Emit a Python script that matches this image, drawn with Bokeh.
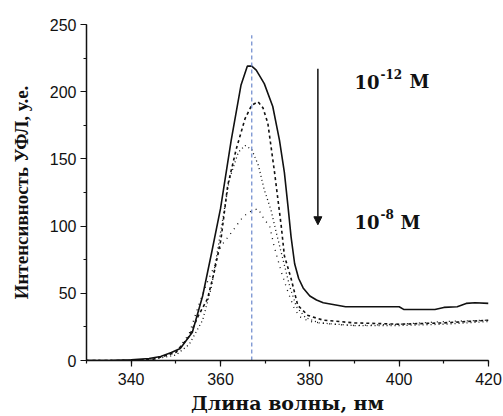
from bokeh.plotting import figure
from bokeh.models import Arrow, NormalHead, Label, SingleIntervalTicker, Range1d
from bokeh.embed import file_html
from bokeh.resources import INLINE

# --- data ---
x_c12 = [330, 335, 340, 344, 346.6, 349, 351, 353.7, 356, 358, 360, 362.4, 364.6, 366, 367,
         368, 369.8, 371.7, 373.2, 374.3, 375.1, 375.8, 376.6, 377.5, 378.5, 380, 381.5, 383, 388,
         390, 400, 401, 408, 410, 413, 415, 417, 420]
y_c12 = [0, 0, 0.5, 1.5, 3, 6, 9, 21, 48, 80, 113, 164, 205, 219, 219,
         216, 206, 189, 164, 140, 115, 92, 72, 61, 54, 48, 45, 43, 40,
         40, 40, 38, 38, 39.5, 40, 42.5, 43, 42.5]

x_c11 = [330, 340, 345, 350, 353, 355, 357.1, 358.6, 360.1, 361.6, 363.5, 365.5, 367, 368.4,
         369.5, 370.6, 372.1, 373.6, 374.3, 375.8, 377.3, 379.6, 383, 390, 400, 410, 415, 420]
y_c11 = [0, 0, 1, 6, 18, 33, 46, 66, 90, 130, 157, 180, 190, 192.5,
         188, 176.5, 140, 100, 78, 61, 41, 33.5, 30, 28, 27, 28, 29, 30]

x_c10 = [330, 340, 345, 350, 353, 356, 358, 360, 362, 364, 365.5, 367, 368.5, 369.8, 371.3,
         372.5, 374, 375.5, 377, 379, 382, 390, 400, 410, 420]
y_c10 = [0, 0, 1, 4, 12, 30, 55, 95, 135, 155, 160, 157, 145, 127, 112,
         95, 75, 55, 40, 32, 28, 26, 26, 27, 29]

x_c8 = [330, 340, 345, 350, 353, 355, 357, 358.6, 360.1, 362.4, 364.6, 366.1, 368.4, 369.8,
        371, 372, 373.6, 375.1, 376.6, 378, 380, 385, 390, 400, 410, 420]
y_c8 = [0, 0, 1, 6, 20, 40, 58, 70, 85, 95, 105, 110, 113, 105,
        100, 85, 66, 51, 38, 32, 29, 27, 26, 27, 29, 30]

peak_x = 367
arrow_x = 381.8
arrow_y = [217, 101]
label_top = ("10", "-12", "M")
label_bottom = ("10", "-8", "M")
label_x = 390
label_top_y = 207.5
label_bottom_y = 103

x_ticks_interval = 20
y_ticks_interval = 50

p = figure(width=503, height=416, output_backend="svg", toolbar_location=None,
           x_range=Range1d(330, 420), y_range=Range1d(0, 250),
           min_border_left=86, min_border_right=15, min_border_top=24, min_border_bottom=54)
p.outline_line_color = None
p.grid.visible = False
p.background_fill_color = "white"

ink = "#111111"
p.line(x_c12, y_c12, line_color=ink, line_width=1.6)
p.line(x_c11, y_c11, line_color=ink, line_width=1.6, line_dash="3 3")
p.line(x_c10, y_c10, line_color=ink, line_width=1.3, line_dash="1 3")
p.line(x_c8, y_c8, line_color=ink, line_width=1.3, line_dash="1 5")

p.segment(x0=[peak_x], y0=[0], x1=[peak_x], y1=[242], line_color="#6b88cc",
          line_width=1.2, line_dash="4 3")

p.add_layout(Arrow(end=NormalHead(size=8, fill_color=ink, line_color=ink),
                   x_start=arrow_x, y_start=arrow_y[0], x_end=arrow_x, y_end=arrow_y[1],
                   line_color=ink, line_width=1.5))

def conc_label(parts, x, y, unit_off):
    base, sup, unit = parts
    p.add_layout(Label(x=x, y=y, text=base, text_font="DejaVu Serif", text_font_style="bold",
                       text_font_size="18px", text_color=ink, text_baseline="alphabetic"))
    p.add_layout(Label(x=x, y=y, x_offset=26, y_offset=8, text=sup, text_font="DejaVu Serif",
                       text_font_style="bold", text_font_size="12px", text_color=ink,
                       text_baseline="alphabetic"))
    p.add_layout(Label(x=x, y=y, x_offset=unit_off, text=unit, text_font="DejaVu Serif",
                       text_font_style="bold", text_font_size="18px", text_color=ink,
                       text_baseline="alphabetic"))

conc_label(label_top, label_x, label_top_y, 55)
conc_label(label_bottom, label_x, label_bottom_y, 46)

p.xaxis.ticker = SingleIntervalTicker(interval=x_ticks_interval, num_minor_ticks=2)
p.yaxis.ticker = SingleIntervalTicker(interval=y_ticks_interval, num_minor_ticks=2)
for ax in (p.xaxis, p.yaxis):
    ax.axis_line_color = ink
    ax.axis_line_width = 1.5
    ax.major_tick_line_color = ink
    ax.minor_tick_line_color = ink
    ax.major_tick_line_width = 1.2
    ax.minor_tick_line_width = 1.2
    ax.major_tick_out = 6
    ax.major_tick_in = 0
    ax.minor_tick_out = 3
    ax.minor_tick_in = 0
    ax.major_label_text_font = "Liberation Sans"
    ax.major_label_text_font_size = "16px"
    ax.major_label_text_color = "#111111"
    ax.axis_label_text_font_style = "bold"
    ax.axis_label_text_color = ink

p.xaxis.axis_label = "Длина волны, нм"
p.xaxis.axis_label_text_font = "DejaVu Serif"
p.xaxis.axis_label_text_font_size = "19px"
p.xaxis.major_label_standoff = 6
p.xaxis.axis_label_standoff = 4

p.yaxis.axis_label = "Интенсивность УФЛ, у.е."
p.yaxis.axis_label_text_font = "Liberation Serif"
p.yaxis.axis_label_text_font_size = "19px"
p.yaxis.major_label_standoff = 4
p.yaxis.axis_label_standoff = 15

open("out.html", "w").write(file_html(p, INLINE))
